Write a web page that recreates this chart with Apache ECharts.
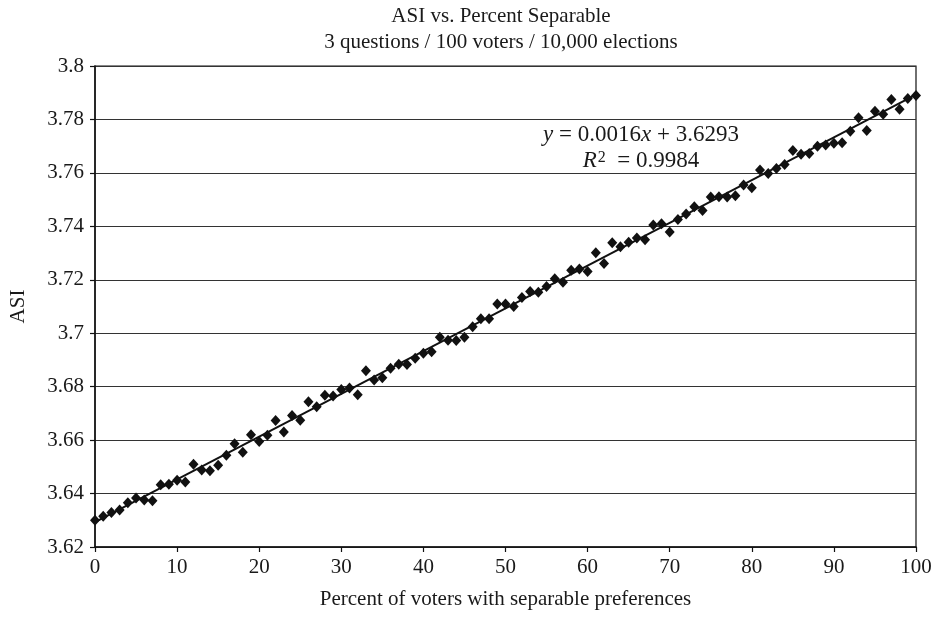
<!DOCTYPE html>
<html>
<head>
<meta charset="utf-8">
<title>ASI vs. Percent Separable</title>
<script src="https://cdn.jsdelivr.net/npm/echarts@6.0.0/dist/echarts.min.js"></script>
<style>
  html, body { margin: 0; padding: 0; background: #fff; }
  #chart { width: 939px; height: 619px; }
</style>
</head>
<body>
<div id="chart"></div>
<script>
// percent of voters with separable preferences
const pct = [
  0, 1, 2, 3, 4, 5, 6, 7, 8, 9, 10, 11, 12, 13, 14, 15, 16, 17, 18, 19,
  20, 21, 22, 23, 24, 25, 26, 27, 28, 29, 30, 31, 32, 33, 34, 35, 36, 37, 38, 39,
  40, 41, 42, 43, 44, 45, 46, 47, 48, 49, 50, 51, 52, 53, 54, 55, 56, 57, 58, 59,
  60, 61, 62, 63, 64, 65, 66, 67, 68, 69, 70, 71, 72, 73, 74, 75, 76, 77, 78, 79,
  80, 81, 82, 83, 84, 85, 86, 87, 88, 89, 90, 91, 92, 93, 94, 95, 96, 97, 98, 99, 100
]

// ASI
const asi = [
  3.6300, 3.6315, 3.6329, 3.6338, 3.6366, 3.6383, 3.6376, 3.6373, 3.6433, 3.6435,
  3.6450, 3.6443, 3.6510, 3.6488, 3.6485, 3.6506, 3.6543, 3.6586, 3.6555, 3.6620,
  3.6595, 3.6618, 3.6673, 3.6630, 3.6692, 3.6674, 3.6744, 3.6725, 3.6768, 3.6765,
  3.6789, 3.6795, 3.6770, 3.6860, 3.6825, 3.6833, 3.6869, 3.6884, 3.6883, 3.6906,
  3.6925, 3.6931, 3.6985, 3.6974, 3.6973, 3.6985, 3.7024, 3.7054, 3.7054, 3.7109,
  3.7109, 3.7100, 3.7134, 3.7156, 3.7153, 3.7175, 3.7204, 3.7191, 3.7236, 3.7240,
  3.7231, 3.7301, 3.7261, 3.7339, 3.7324, 3.7340, 3.7356, 3.7350, 3.7405, 3.7410,
  3.7379, 3.7426, 3.7446, 3.7473, 3.7459, 3.7510, 3.7511, 3.7510, 3.7514, 3.7555,
  3.7544, 3.7611, 3.7598, 3.7616, 3.7631, 3.7684, 3.7670, 3.7673, 3.7700, 3.7704,
  3.7711, 3.7713, 3.7756, 3.7806, 3.7759, 3.7831, 3.7819, 3.7875, 3.7838, 3.7878,
  3.7890
]

// linear trend line end points (y = 0.0016x + 3.6293)
const trendX = [0, 100]
const trendY = [3.6293, 3.7893]

const yTicks = [3.62, 3.64, 3.66, 3.68, 3.7, 3.72, 3.74, 3.76, 3.78, 3.8]

const titleLines = ['ASI vs. Percent Separable', '3 questions / 100 voters / 10,000 elections']

const FONT = '"Liberation Serif", "DejaVu Serif", serif'
const INK = '#1a1a1a'

const chart = echarts.init(document.getElementById('chart'))

const option = {
  backgroundColor: '#fff',
  animation: false,
  textStyle: { fontFamily: FONT, color: INK },
  grid: {
    left: 94,
    right: 23,
    top: 66,
    bottom: 72,
    show: true,
    borderColor: '#111',
    borderWidth: 1.2
  },
  xAxis: {
    type: 'value',
    min: 0,
    max: 100,
    interval: 10,
    name: 'Percent of voters with separable preferences',
    nameLocation: 'middle',
    nameGap: 42,
    nameTextStyle: { fontFamily: FONT, fontSize: 21, color: INK },
    axisLine: { show: true, lineStyle: { color: '#111', width: 1.5 } },
    axisTick: { show: true, inside: false, length: 5, lineStyle: { color: '#111', width: 1.2 } },
    axisLabel: { fontFamily: FONT, fontSize: 21, color: INK, margin: 10 },
    splitLine: { show: false }
  },
  yAxis: {
    type: 'value',
    min: 3.62,
    max: 3.8,
    interval: 0.02,
    name: 'ASI',
    nameLocation: 'middle',
    nameGap: 66,
    nameRotate: 90,
    nameTextStyle: { fontFamily: FONT, fontSize: 21, color: INK },
    axisLine: { show: true, lineStyle: { color: '#111', width: 1.5 } },
    axisTick: { show: true, inside: false, length: 5, lineStyle: { color: '#111', width: 1.2 } },
    axisLabel: {
      fontFamily: FONT,
      fontSize: 21,
      color: INK,
      margin: 11,
      formatter: v => {
        const t = yTicks.find(k => Math.abs(k - v) < 1e-6)
        return t === undefined ? '' : String(t)
      }
    },
    splitLine: { show: true, lineStyle: { color: '#333', width: 1.2 } }
  },
  series: [
    {
      name: 'ASI',
      type: 'scatter',
      symbol: 'diamond',
      symbolSize: [10, 11],
      itemStyle: { color: '#111', opacity: 1 },
      data: pct.map((p, i) => [p, asi[i]]),
      z: 3
    },
    {
      name: 'Linear trend',
      type: 'line',
      showSymbol: false,
      symbol: 'none',
      lineStyle: { color: '#111', width: 2 },
      data: trendX.map((x, i) => [x, trendY[i]]),
      z: 4
    }
  ],
  graphic: [
    {
      type: 'text',
      x: 501,
      y: 16,
      style: {
        text: titleLines[0],
        font: '21px ' + FONT,
        fill: INK,
        align: 'center',
        verticalAlign: 'middle'
      }
    },
    {
      type: 'text',
      x: 501,
      y: 42,
      style: {
        text: titleLines[1],
        font: '21px ' + FONT,
        fill: INK,
        align: 'center',
        verticalAlign: 'middle'
      }
    },
    {
      type: 'text',
      x: 641,
      y: 135,
      style: {
        text: '{i|y} = 0.0016{i|x} + 3.6293',
        font: '23px ' + FONT,
        fill: INK,
        align: 'center',
        verticalAlign: 'middle',
        rich: {
          i: { fontFamily: FONT, fontSize: 23, fontStyle: 'italic', fill: INK }
        }
      }
    },
    {
      type: 'text',
      x: 641,
      y: 161,
      style: {
        text: '{i|R}{sup|2}  = 0.9984',
        font: '23px ' + FONT,
        fill: INK,
        align: 'center',
        verticalAlign: 'middle',
        rich: {
          i: { fontFamily: FONT, fontSize: 23, fontStyle: 'italic', fill: INK },
          sup: { fontFamily: FONT, fontSize: 16, fill: INK, verticalAlign: 'top', padding: [0, 0, 6, 1] }
        }
      }
    }
  ]
}

chart.setOption(option)
</script>
</body>
</html>
